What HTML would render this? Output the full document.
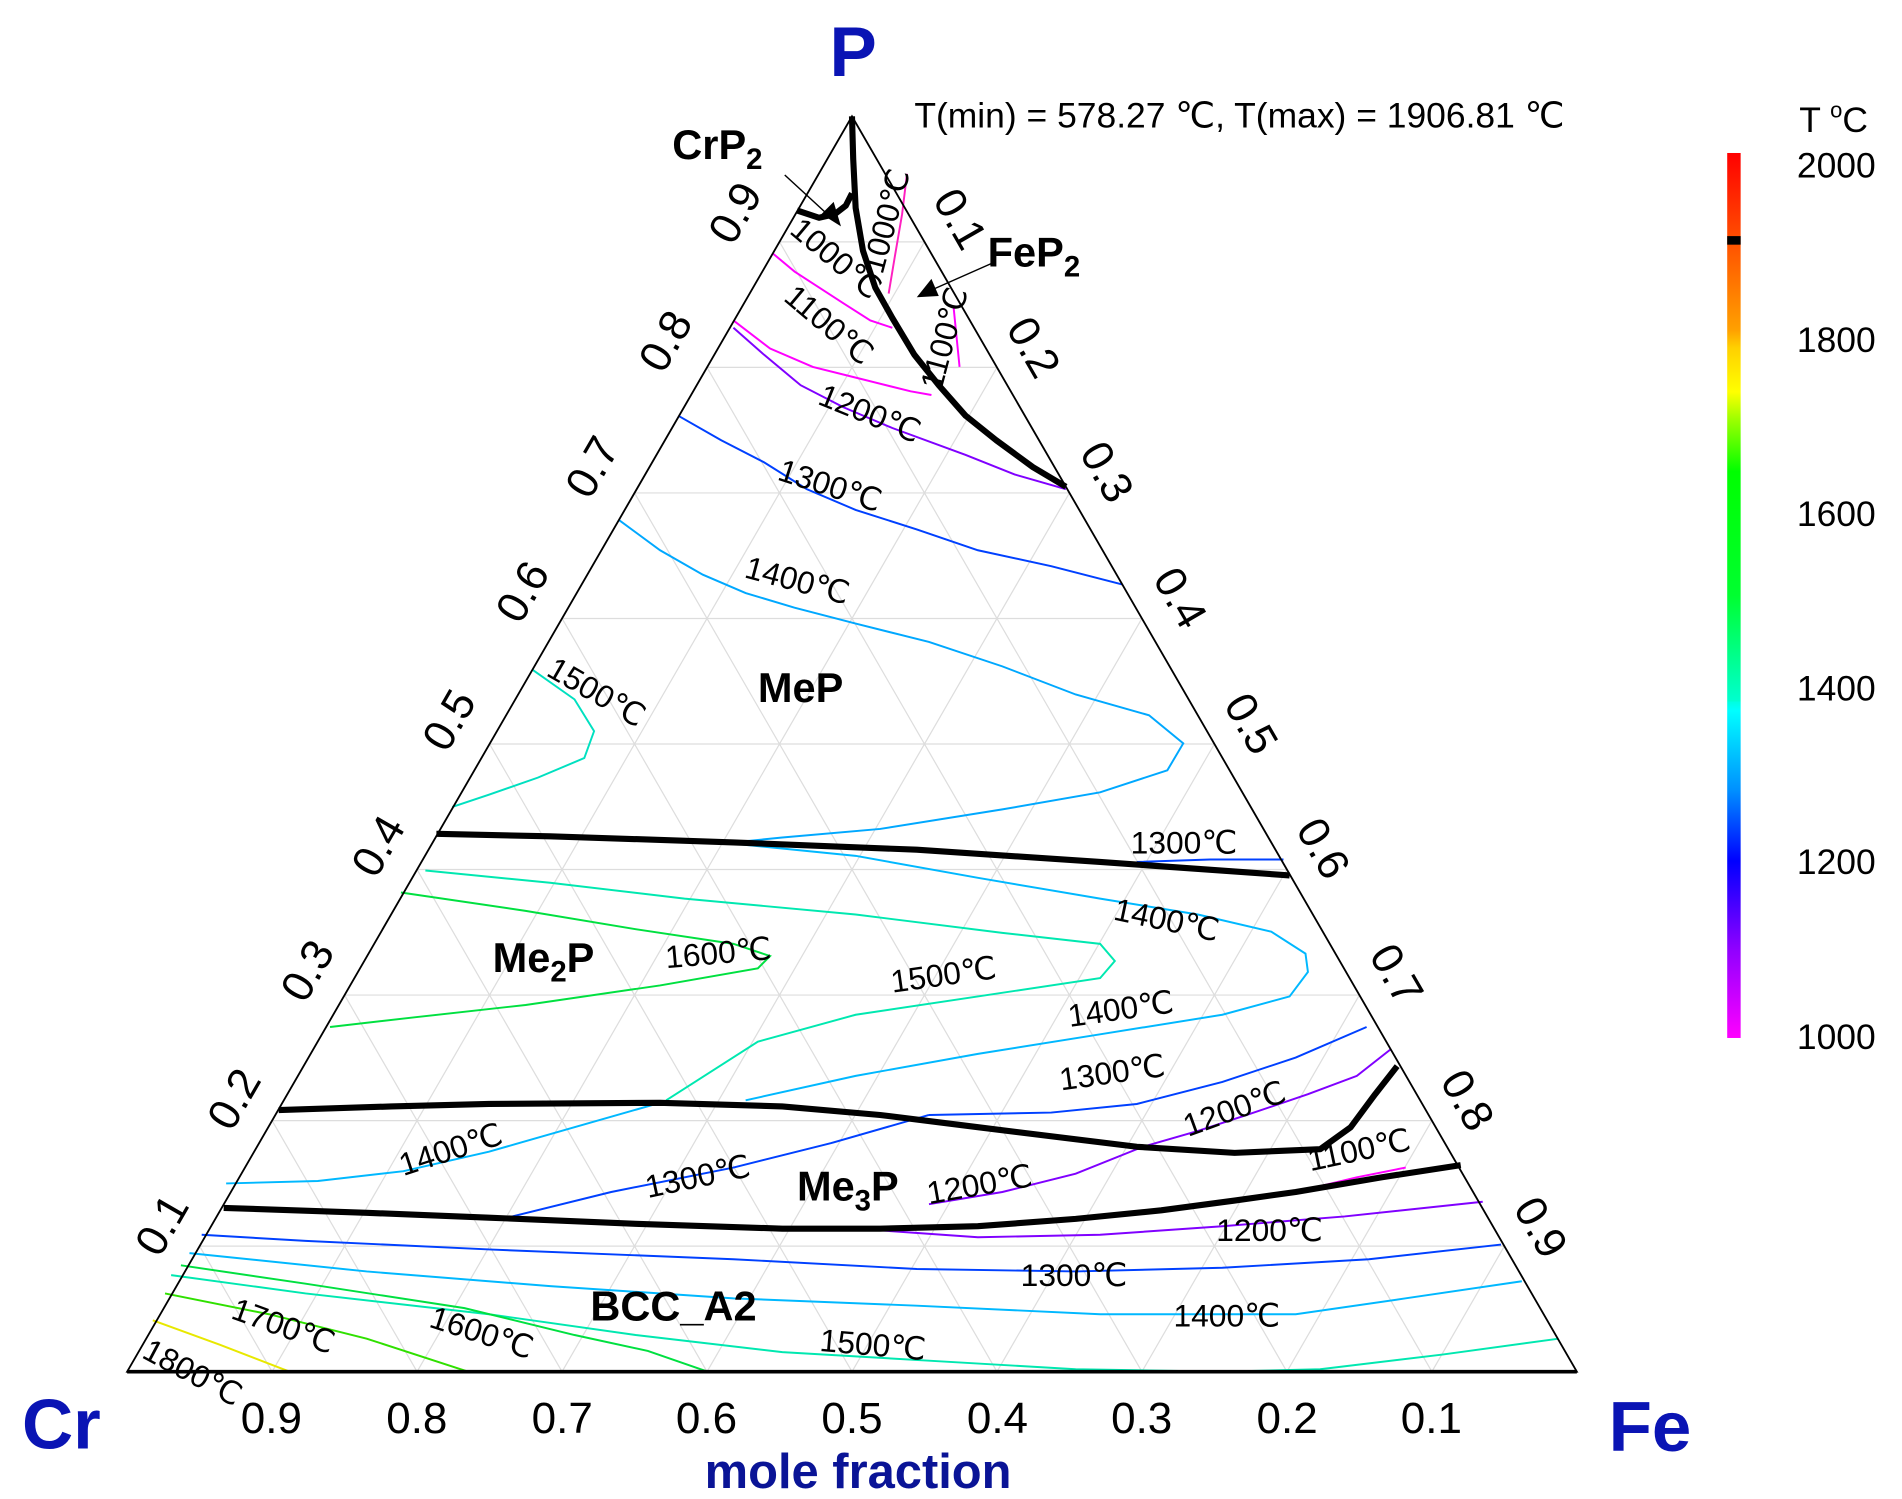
<!DOCTYPE html>
<html><head><meta charset="utf-8"><style>html,body{margin:0;padding:0;background:#fff}svg{display:block}</style></head>
<body>
<svg width="1902" height="1499" viewBox="0 0 1556 1226" xmlns="http://www.w3.org/2000/svg" font-family="Liberation Sans, sans-serif">
<defs>
<linearGradient id="cb" x1="0" y1="0" x2="0" y2="1">
<stop offset="0" stop-color="#ff0000"/><stop offset="0.1" stop-color="#ff5000"/>
<stop offset="0.2" stop-color="#ffa000"/><stop offset="0.22" stop-color="#ffd000"/><stop offset="0.27" stop-color="#ffff00"/>
<stop offset="0.3" stop-color="#a0ff00"/><stop offset="0.36" stop-color="#00ff00"/><stop offset="0.5" stop-color="#00ff30"/>
<stop offset="0.62" stop-color="#00ffd0"/><stop offset="0.62" stop-color="#00ffe0"/><stop offset="0.63" stop-color="#00ffff"/>
<stop offset="0.72" stop-color="#0090ff"/><stop offset="0.8" stop-color="#0000ff"/><stop offset="0.9" stop-color="#9000ff"/>
<stop offset="1" stop-color="#ff00ff"/></linearGradient>
</defs>
<rect width="1556" height="1226" fill="#fff"/>
<!-- grid -->
<g stroke="#ddd" stroke-width="1" fill="none">
<line x1="163.3" y1="1019.3" x2="1230.7" y2="1019.3"/><line x1="222.6" y1="916.6" x2="1171.4" y2="916.6"/>
<line x1="281.9" y1="813.9" x2="1112.1" y2="813.9"/><line x1="341.2" y1="711.2" x2="1052.8" y2="711.2"/>
<line x1="400.5" y1="608.5" x2="993.5" y2="608.5"/><line x1="459.8" y1="505.8" x2="934.2" y2="505.8"/>
<line x1="519.1" y1="403.1" x2="874.9" y2="403.1"/><line x1="578.4" y1="300.4" x2="815.6" y2="300.4"/>
<line x1="637.7" y1="197.7" x2="756.3" y2="197.7"/>
<line x1="222.6" y1="1122" x2="756.3" y2="197.7"/><line x1="341.2" y1="1122" x2="815.6" y2="300.4"/>
<line x1="459.8" y1="1122" x2="874.9" y2="403.1"/><line x1="578.4" y1="1122" x2="934.2" y2="505.8"/>
<line x1="697" y1="1122" x2="993.5" y2="608.5"/><line x1="815.6" y1="1122" x2="1052.8" y2="711.2"/>
<line x1="934.2" y1="1122" x2="1112.1" y2="813.9"/><line x1="1052.8" y1="1122" x2="1171.4" y2="916.6"/>
<line x1="1171.4" y1="1122" x2="1230.7" y2="1019.3"/>
<line x1="1171.4" y1="1122" x2="637.7" y2="197.7"/><line x1="1052.8" y1="1122" x2="578.4" y2="300.4"/>
<line x1="934.2" y1="1122" x2="519.1" y2="403.1"/><line x1="815.6" y1="1122" x2="459.8" y2="505.8"/>
<line x1="697" y1="1122" x2="400.5" y2="608.5"/><line x1="578.4" y1="1122" x2="341.2" y2="711.2"/>
<line x1="459.8" y1="1122" x2="281.9" y2="813.9"/><line x1="341.2" y1="1122" x2="222.6" y2="916.6"/>
<line x1="222.6" y1="1122" x2="163.3" y2="1019.3"/>
</g>
<!-- contours -->
<g fill="none" stroke-width="1.6">
<polyline stroke="#ff00ff" points="632,207 650,222 670,235 690,248 712,262 730,268"/>
<polyline stroke="#ff20c0" points="742,142 738,175 732,210 727,240"/>
<polyline stroke="#ff00ff" points="600,262 630,285 665,300 705,310 745,320 762,323"/>
<polyline stroke="#ff00ff" points="785,300 780,250"/>
<polyline stroke="#8000ff" points="600,268 625,290 655,315 690,333 730,350 790,372 830,388 872,400"/>
<polyline stroke="#0040ff" points="555,340 590,360 625,378 660,400 700,417 750,433 800,450 860,463 918,478"/>
<polyline stroke="#00a8ff" points="506,425 540,450 575,470 610,485 650,497 700,510 760,525 820,545 880,568 940,585 968,608 955,630 900,648 820,662 720,678 640,685 590,690"/>
<polyline stroke="#00e0c0" points="436,548 470,572 486,598 478,620 440,636 400,650 370,660"/>
<polyline stroke="#0040ff" points="930,705 990,703 1050,703"/>
<polyline stroke="#00b8ff" points="600,690 700,700 800,718 900,735 980,748 1040,762 1068,780 1070,795 1055,815 1000,830 900,846 800,862 700,880 610,900"/>
<polyline stroke="#00e8b0" points="348,712 450,722 560,735 700,748 820,763 900,772 912,786 900,800 800,815 700,830 620,852 545,900"/>
<polyline stroke="#00e040" points="328,730 430,745 520,760 600,772 630,782 620,792 540,806 430,822 340,832 270,840"/>
<polyline stroke="#0040ff" points="1118,840 1060,865 1000,885 930,903 860,910 760,912"/>
<polyline stroke="#8000ff" points="1138,858 1110,880 1070,895 1020,912 980,925 935,938"/>
<polyline stroke="#00b8ff" points="185,968 260,966 330,958 400,942 470,922 540,902"/>
<polyline stroke="#0040ff" points="415,996 500,975 600,955 680,935 760,912"/>
<polyline stroke="#8000ff" points="760,985 820,975 880,960 935,938"/>
<polyline stroke="#ff00ff" points="1060,975 1110,963 1150,955"/>
<polyline stroke="#8000ff" points="700,1005 800,1012 900,1010 1000,1003 1100,995 1213,983"/>
<polyline stroke="#0040ff" points="165,1010 250,1015 400,1022 600,1030 750,1038 880,1040 1000,1037 1120,1030 1228,1018"/>
<polyline stroke="#00b8ff" points="155,1025 300,1040 450,1052 600,1062 750,1068 900,1075 1060,1075 1150,1062 1245,1048"/>
<polyline stroke="#00e8b0" points="140,1043 250,1058 400,1075 520,1092 640,1106 760,1113 880,1120 1000,1122 1080,1120 1180,1108 1275,1095"/>
<polyline stroke="#00e040" points="148,1035 250,1050 380,1070 470,1092 530,1105 579,1122"/>
<polyline stroke="#30e000" points="135,1058 220,1075 300,1095 383,1122"/>
<polyline stroke="#e8e800" points="125,1080 180,1100 237,1122"/>
</g>
<!-- phase boundaries -->
<g fill="none" stroke="#000" stroke-width="5" stroke-linejoin="round">
<polyline points="357,682 450,684 600,689 750,695 900,705 1055,716"/>
<polyline points="228,908 320,905 400,903 540,902 640,905 720,912 800,922 930,938 1010,943 1080,940 1105,922 1125,895 1143,872"/>
<polyline points="183,988 300,992 400,996 520,1001 640,1005 720,1005 800,1003 880,997 950,990 1010,982 1060,975 1130,963 1195,953"/>
<polyline points="697,95 698,130 700,170 706,205 716,235 730,260 748,290 768,315 790,340 815,360 845,382 872,398"/>
<polyline points="652,172 670,178 683,175 692,168 697,158"/>
</g>
<!-- triangle -->
<polygon points="104,1122 1290,1122 697,95" fill="none" stroke="#000" stroke-width="1.5"/>
<line x1="104" y1="1122" x2="1290" y2="1122" stroke="#000" stroke-width="3"/>
<!-- arrows -->
<g stroke="#000" stroke-width="1.2">
<line x1="642" y1="143" x2="680" y2="178"/><line x1="812" y1="215" x2="760" y2="238"/>
</g>
<polygon points="688,185 672,175 682,165" fill="#000"/>
<polygon points="750,243 762,228 768,242" fill="#000"/>
<!-- tick labels -->
<g font-size="36" fill="#000" text-anchor="middle">
<text x="222" y="1172">0.9</text><text x="341" y="1172">0.8</text><text x="460" y="1172">0.7</text>
<text x="578" y="1172">0.6</text><text x="697" y="1172">0.5</text><text x="816" y="1172">0.4</text>
<text x="934" y="1172">0.3</text><text x="1053" y="1172">0.2</text><text x="1171" y="1172">0.1</text>
<text transform="translate(612,180) rotate(-60)">0.9</text>
<text transform="translate(555,285) rotate(-60)">0.8</text>
<text transform="translate(495,388) rotate(-60)">0.7</text>
<text transform="translate(438,490) rotate(-60)">0.6</text>
<text transform="translate(378,595) rotate(-60)">0.5</text>
<text transform="translate(320,698) rotate(-60)">0.4</text>
<text transform="translate(262,800) rotate(-60)">0.3</text>
<text transform="translate(202,905) rotate(-60)">0.2</text>
<text transform="translate(143,1008) rotate(-60)">0.1</text>
<text transform="translate(775,185) rotate(60)">0.1</text>
<text transform="translate(835,290) rotate(60)">0.2</text>
<text transform="translate(895,392) rotate(60)">0.3</text>
<text transform="translate(955,495) rotate(60)">0.4</text>
<text transform="translate(1013,598) rotate(60)">0.5</text>
<text transform="translate(1072,700) rotate(60)">0.6</text>
<text transform="translate(1132,803) rotate(60)">0.7</text>
<text transform="translate(1190,906) rotate(60)">0.8</text>
<text transform="translate(1250,1010) rotate(60)">0.9</text>
</g>
<!-- contour labels -->
<g font-size="26" fill="#000">
<text transform="translate(645,190) rotate(40)">1000℃</text>
<text transform="translate(722,225) rotate(-75)">1000℃</text>
<text transform="translate(640,245) rotate(40)">1100℃</text>
<text transform="translate(770,320) rotate(-75)">1100℃</text>
<text transform="translate(668,330) rotate(22)">1200℃</text>
<text transform="translate(635,392) rotate(18)">1300℃</text>
<text transform="translate(608,472) rotate(15)">1400℃</text>
<text transform="translate(446,552) rotate(30)">1500℃</text>
<text x="925" y="698">1300℃</text>
<text transform="translate(910,752) rotate(12)">1400℃</text>
<text transform="translate(545,792) rotate(-5)">1600℃</text>
<text transform="translate(730,812) rotate(-8)">1500℃</text>
<text transform="translate(875,840) rotate(-8)">1400℃</text>
<text transform="translate(868,892) rotate(-8)">1300℃</text>
<text transform="translate(972,930) rotate(-20)">1200℃</text>
<text transform="translate(330,962) rotate(-18)">1400℃</text>
<text transform="translate(530,980) rotate(-12)">1300℃</text>
<text transform="translate(760,985) rotate(-10)">1200℃</text>
<text transform="translate(1072,958) rotate(-12)">1100℃</text>
<text x="995" y="1015">1200℃</text>
<text x="835" y="1052">1300℃</text>
<text x="960" y="1085">1400℃</text>
<text transform="translate(670,1105) rotate(5)">1500℃</text>
<text transform="translate(350,1085) rotate(18)">1600℃</text>
<text transform="translate(188,1078) rotate(20)">1700℃</text>
<text transform="translate(115,1110) rotate(28)">1800℃</text>
</g>
<!-- phase labels -->
<g font-size="34" font-weight="bold" fill="#000">
<text x="550" y="130">CrP<tspan font-size="24" dy="8">2</tspan></text>
<text x="808" y="218">FeP<tspan font-size="24" dy="8">2</tspan></text>
<text x="620" y="574">MeP</text>
<text x="403" y="795">Me<tspan font-size="24" dy="8">2</tspan><tspan dy="-8">P</tspan></text>
<text x="652" y="982">Me<tspan font-size="24" dy="8">3</tspan><tspan dy="-8">P</tspan></text>
<text x="483" y="1080">BCC_A2</text>
</g>
<text x="748" y="104" font-size="29">T(min) = 578.27 ℃, T(max) = 1906.81 ℃</text>
<g font-weight="bold" fill="#0a14b4">
<text x="698" y="62" font-size="58" text-anchor="middle">P</text>
<text x="18" y="1185" font-size="58">Cr</text>
<text x="1316" y="1187" font-size="58">Fe</text>
<text x="702" y="1217" font-size="40" text-anchor="middle" fill="#0a1496">mole fraction</text>
</g>
<!-- colorbar -->
<rect x="1413" y="125" width="11" height="724" fill="url(#cb)"/>
<rect x="1413" y="193" width="11" height="7" fill="#000"/>
<g font-size="29" fill="#000">
<text x="1472" y="108">T <tspan font-size="18" dy="-12">o</tspan><tspan dy="12">C</tspan></text>
<text x="1470" y="145">2000</text><text x="1470" y="288">1800</text><text x="1470" y="430">1600</text>
<text x="1470" y="573">1400</text><text x="1470" y="715">1200</text><text x="1470" y="858">1000</text>
</g>
</svg>
</body></html>
